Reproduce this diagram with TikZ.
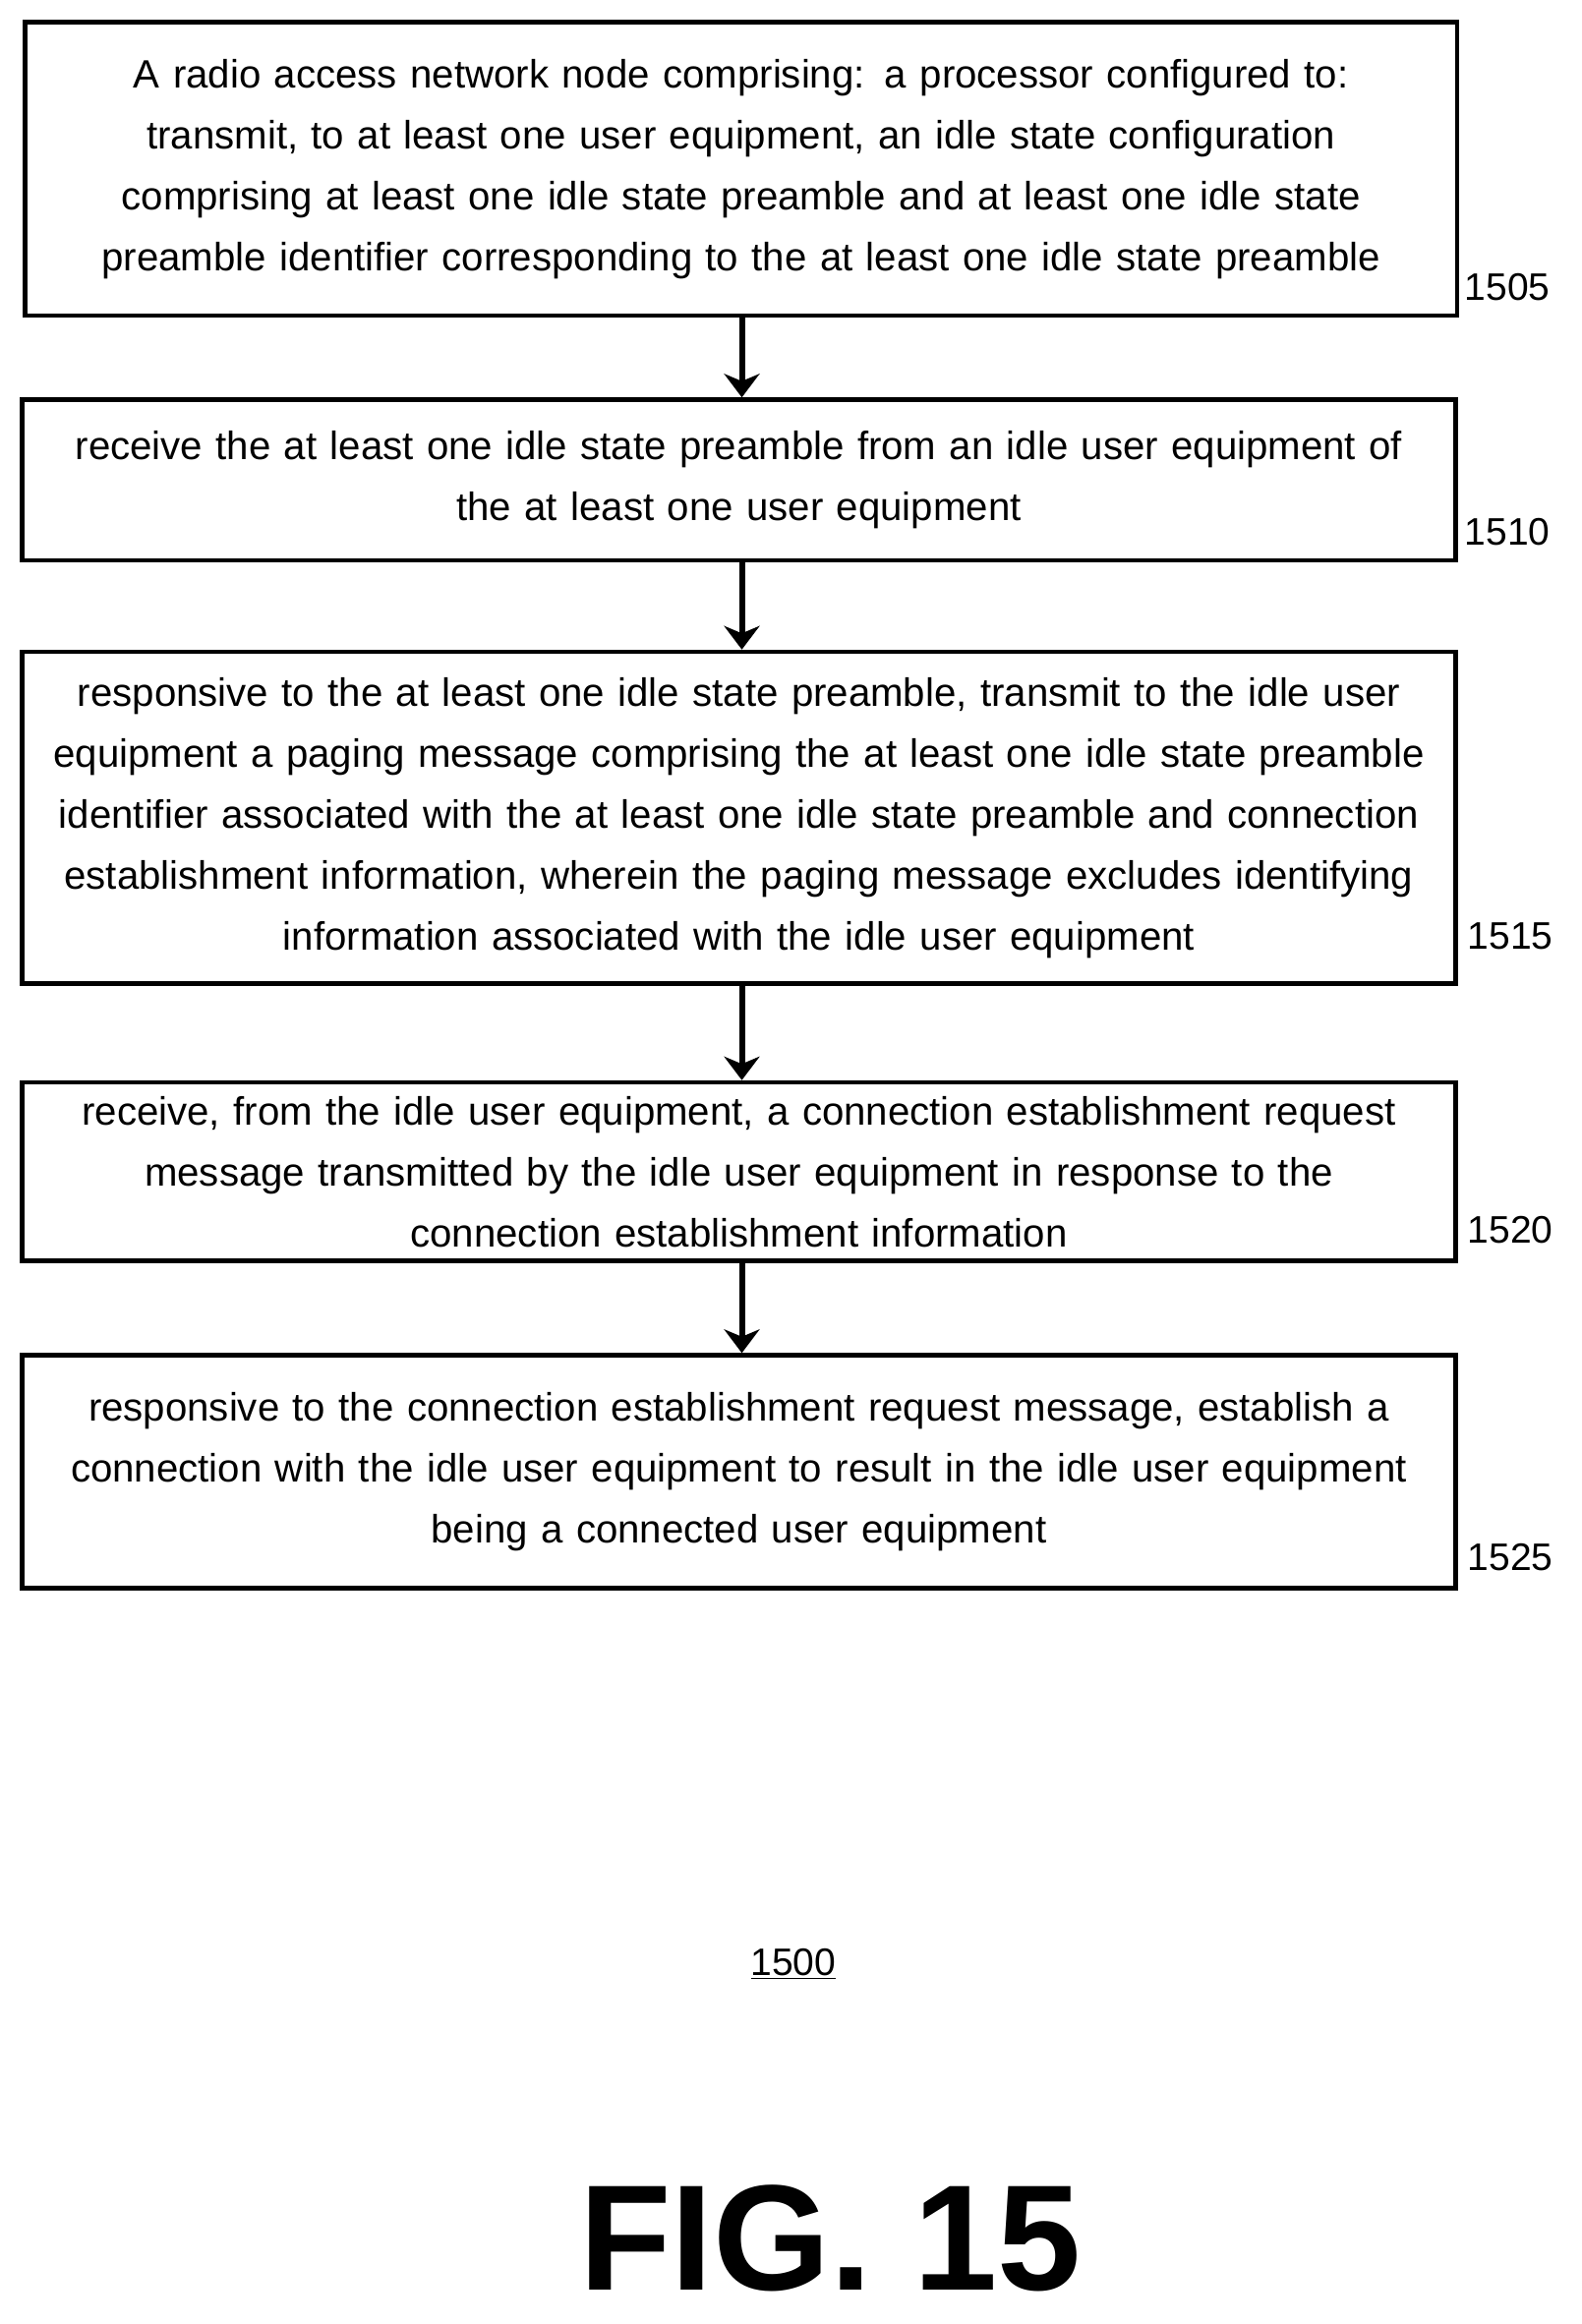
\documentclass[tikz,border=0pt]{standalone}
\usepackage{fontspec}
\setmainfont{Liberation Sans}
\usetikzlibrary{arrows.meta}
\begin{document}
\begin{tikzpicture}[x=1pt,y=-1pt,
  box/.style={draw,line width=3pt,rectangle,inner sep=0pt,text width=965pt,align=center,
    font=\fontsize{26.8}{41.3}\selectfont},
  lbl/.style={anchor=west,inner sep=0pt,font=\fontsize{26}{30}\selectfont},
  arr/.style={line width=4pt,-{Stealth[length=16pt,width=24pt,inset=5pt]}}]
\useasboundingbox (0,0) rectangle (1072,1576);
\node[box,minimum width=971pt,minimum height=199pt] (b1) at (502.5,114.5) {\raisebox{-4pt}{\parbox{965pt}{\centering A radio access network node comprising: a processor configured to:\\ transmit, to at least one user equipment, an idle state configuration\\ comprising at least one idle state preamble and at least one idle state\\ preamble identifier corresponding to the at least one idle state preamble}}};
\node[box,minimum width=972pt,minimum height=109pt] (b2) at (501,325.5) {receive the at least one idle state preamble from an idle user equipment of\\ the at least one user equipment};
\node[box,minimum width=972pt,minimum height=225pt] (b3) at (501,554.5) {responsive to the at least one idle state preamble, transmit to the idle user\\ equipment a paging message comprising the at least one idle state preamble\\ identifier associated with the at least one idle state preamble and connection\\ establishment information, wherein the paging message excludes identifying\\ information associated with the idle user equipment};
\node[box,minimum width=972pt,minimum height=121pt] (b4) at (501,794.5) {receive, from the idle user equipment, a connection establishment request\\ message transmitted by the idle user equipment in response to the\\ connection establishment information};
\node[box,minimum width=972pt,minimum height=158pt] (b5) at (501,998) {responsive to the connection establishment request message, establish a\\ connection with the idle user equipment to result in the idle user equipment\\ being a connected user equipment};
\node[lbl] (l1) at (993,195) {1505};
\node[lbl] (l2) at (993,361) {1510};
\node[lbl] (l3) at (995,635) {1515};
\node[lbl] (l4) at (995,834) {1520};
\node[lbl] (l5) at (995,1056) {1525};
\draw[arr] (b1.south -| 503,0) -- (b2.north -| 503,0);
\draw[arr] (b2.south -| 503,0) -- (b3.north -| 503,0);
\draw[arr] (b3.south -| 503,0) -- (b4.north -| 503,0);
\draw[arr] (b4.south -| 503,0) -- (b5.north -| 503,0);
\node[font=\fontsize{26}{30}\selectfont] (n) at (538,1332) {\underline{1500}};
\node[font=\fontsize{102}{110}\bfseries\selectfont] (fig) at (563,1518) {FIG. 15};
\end{tikzpicture}
\end{document}
